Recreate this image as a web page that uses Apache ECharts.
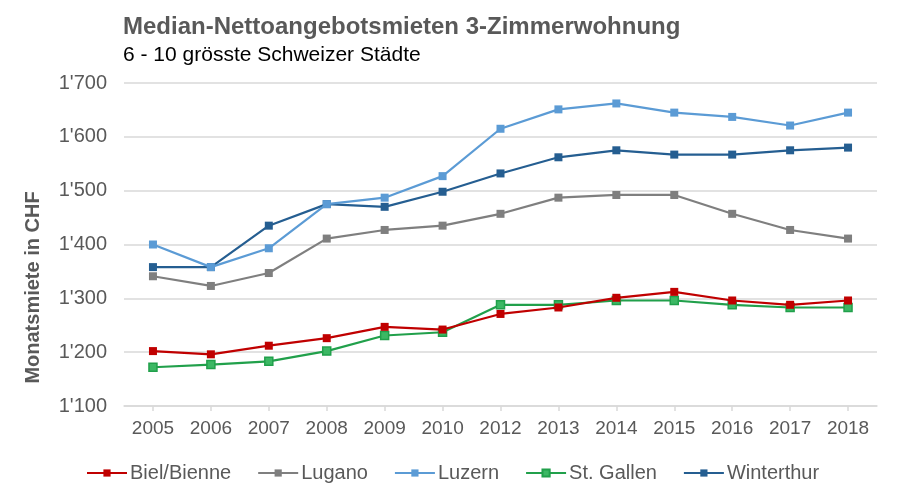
<!DOCTYPE html>
<html>
<head>
<meta charset="utf-8">
<script src="https://cdn.jsdelivr.net/npm/echarts@6/dist/echarts.min.js"></script>
<style>
html,body{margin:0;padding:0;background:#fff;}
#chart{width:900px;height:502px;}
</style>
</head>
<body>
<div id="chart"></div>
<script>
var titleText = "Median-Nettoangebotsmieten 3-Zimmerwohnung";
var subtitleText = "6 - 10 grösste Schweizer Städte";
var yAxisName = "Monatsmiete in CHF";
var years = ["2005","2006","2007","2008","2009","2010","2012","2013","2014","2015","2016","2017","2018"];
var seriesNames = ["Biel/Bienne","Lugano","Luzern","St. Gallen","Winterthur"];
var biel = [1202,1196,1212,1226,1247,1242,1271,1283,1301,1312,1296,1288,1296];
var lugano = [1341,1323,1347,1411,1427,1435,1457,1487,1492,1492,1457,1427,1411];
var luzern = [1400,1358,1393,1475,1487,1527,1615,1651,1662,1645,1637,1621,1645];
var stgallen = [1172,1177,1183,1202,1231,1237,1288,1288,1296,1296,1288,1283,1283];
var winterthur = [1358,1358,1435,1475,1470,1498,1532,1562,1575,1567,1567,1575,1580];
var yMin = 1100, yMax = 1700, yStep = 100;

var colors = ["#C00000","#7F7F7F","#5B9BD5","#21A04B","#255E91"];
var fills = ["#C00000","#7F7F7F","#5B9BD5","#3CB864","#255E91"];
var allData = [biel, lugano, luzern, stgallen, winterthur];

function fmt(v){ return String(v).replace(/\B(?=(\d{3})+(?!\d))/g, "'"); }

var chart = echarts.init(document.getElementById('chart'), null, {renderer:'canvas'});
var font = "'Liberation Sans', Arial, sans-serif";
var series = seriesNames.map(function(n, i){
  return {
    name: n,
    type: 'line',
    data: allData[i],
    symbol: 'rect',
    symbolSize: 8,
    showAllSymbol: true,
    lineStyle: {color: colors[i], width: 2.2},
    itemStyle: {color: fills[i], borderColor: colors[i], borderWidth: i === 3 ? 1.5 : 0},
    emphasis: {disabled: true},
    z: 10 - i
  };
});

chart.setOption({
  animation: false,
  backgroundColor: '#ffffff',
  title: [
    {text: titleText, left: 118, top: 10,
     textStyle: {fontFamily: font, fontSize: 24, fontWeight: 'bold', color: '#595959'}},
    {text: subtitleText, left: 118, top: 40,
     textStyle: {fontFamily: font, fontSize: 21, fontWeight: 'normal', color: '#000000'}}
  ],
  legend: {
    data: seriesNames,
    left: 81, top: 458,
    itemWidth: 40, itemHeight: 9, itemGap: 26,
    textStyle: {fontFamily: font, fontSize: 20, color: '#595959', padding: [0,0,0,-2]}
  },
  grid: {left: 124, right: 23, top: 83, bottom: 96, containLabel: false},
  xAxis: {
    type: 'category',
    data: years,
    boundaryGap: true,
    axisLine: {lineStyle: {color: '#D9D9D9', width: 1.5}},
    axisTick: {show: true, alignWithLabel: true, length: 5, lineStyle: {color: '#D9D9D9', width: 1.5}},
    axisLabel: {fontFamily: font, fontSize: 19, color: '#595959', margin: 13}
  },
  yAxis: {
    type: 'value',
    min: yMin, max: yMax, interval: yStep,
    name: yAxisName,
    nameLocation: 'middle',
    nameRotate: 90,
    nameGap: 81,
    nameTextStyle: {fontFamily: font, fontSize: 20, fontWeight: 'bold', color: '#595959', padding: [0, 86, 0, 0]},
    axisLine: {show: false},
    axisTick: {show: false},
    axisLabel: {fontFamily: font, fontSize: 20, color: '#595959', margin: 17, formatter: fmt},
    splitLine: {lineStyle: {color: '#D9D9D9', width: 1.5}}
  },
  series: series
});
</script>
</body>
</html>
